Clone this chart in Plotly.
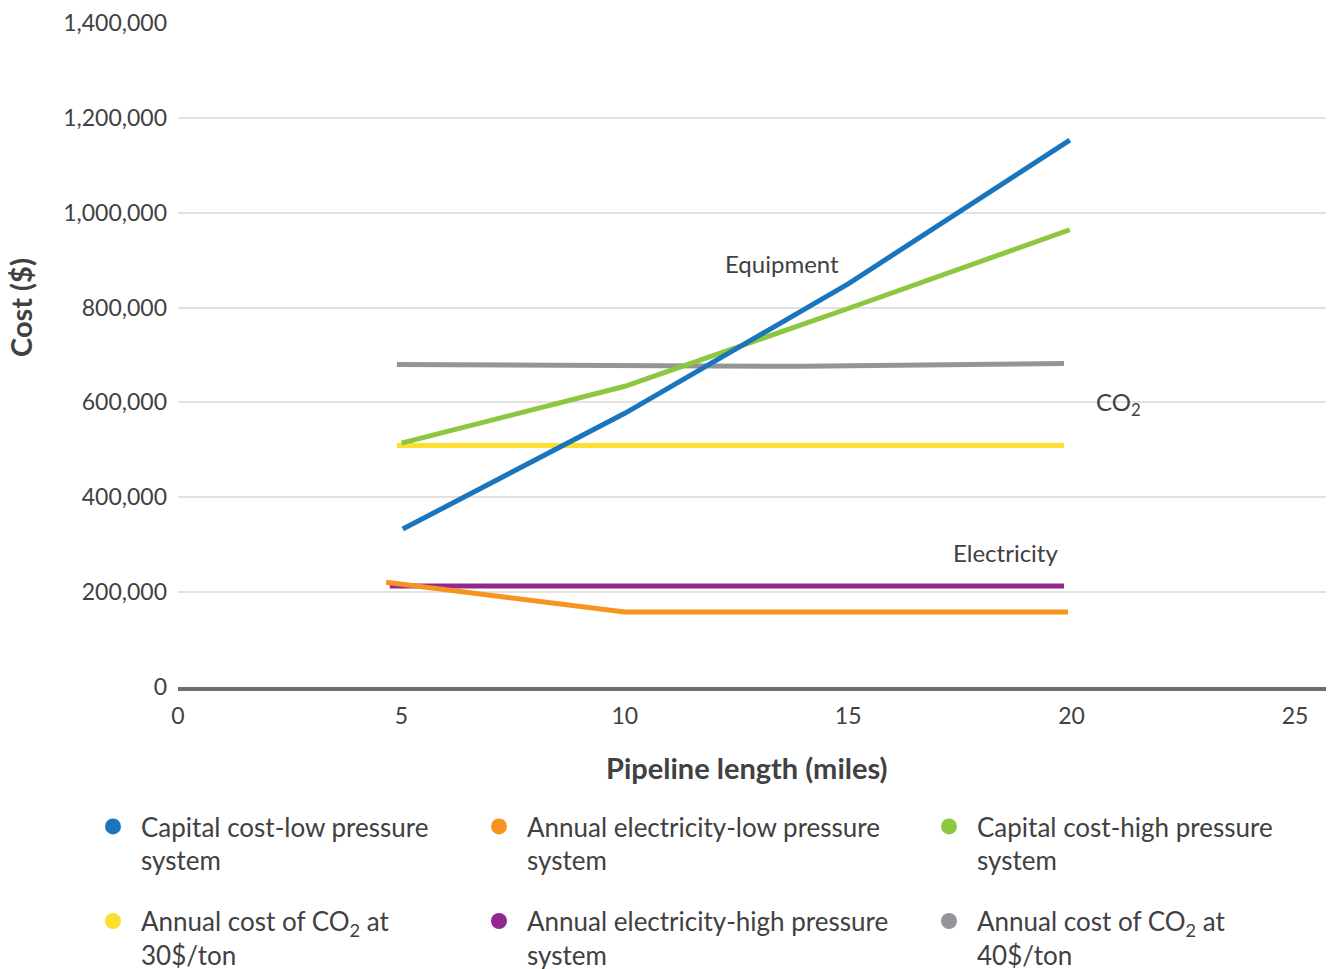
import plotly.graph_objects as go

# ---- data ----
cap_low_x = [5.03, 10, 15, 19.96]
cap_low_y = [333000, 577000, 850000, 1153000]

elec_low_x = [4.66, 10, 15, 19.92]
elec_low_y = [221000, 158000, 158000, 158000]

cap_high_x = [5.0, 10, 15, 19.96]
cap_high_y = [514000, 634000, 798000, 964000]

co2_30_x = [4.9, 10, 15, 19.83]
co2_30_y = [509000, 509000, 509000, 509000]

elec_high_x = [4.74, 10, 15, 19.83]
elec_high_y = [213000, 213000, 213000, 213000]

co2_40_x = [4.9, 10, 14, 19.83]
co2_40_y = [680000, 678000, 676000, 682000]

series_names = [
    "Capital cost-low pressure<br>system",
    "Annual electricity-low pressure<br>system",
    "Capital cost-high pressure<br>system",
    "Annual cost of CO<sub>2</sub> at<br>30$/ton",
    "Annual electricity-high pressure<br>system",
    "Annual cost of CO<sub>2</sub> at<br>40$/ton",
]
colors = ["#1a75bc", "#f7941d", "#8dc63f", "#fde02f", "#92278f", "#939598"]
xs = [cap_low_x, elec_low_x, cap_high_x, co2_30_x, elec_high_x, co2_40_x]
ys = [cap_low_y, elec_low_y, cap_high_y, co2_30_y, elec_high_y, co2_40_y]
legend_ids = ["legend", "legend2", "legend3", "legend", "legend2", "legend3"]

x_ticks = [0, 5, 10, 15, 20, 25]
y_ticks = [0, 200000, 400000, 600000, 800000, 1000000, 1200000, 1400000]

labels = [("Equipment", 13.52, 892000), ("CO<sub>2</sub>", 21.05, 598000), ("Electricity", 18.53, 284000)]

FONT = "Lato"
TXT = "#414042"

W, H = 1318, 961
ML, MT, MB = 170, 14, 282

fig = go.Figure()
# draw order: gray, yellow, purple, orange, green, blue (blue on top)
order = [5, 3, 4, 1, 2, 0]
for i in order:
    fig.add_trace(go.Scatter(
        x=xs[i], y=ys[i], mode="lines",
        line=dict(color=colors[i], width=5),
        showlegend=False, hoverinfo="skip",
    ))
for i in range(6):
    fig.add_trace(go.Scatter(
        x=[None], y=[None], mode="markers",
        marker=dict(color=colors[i], size=18, symbol="circle"),
        name=series_names[i], legend=legend_ids[i], legendgroup="g%d" % i,
    ))

for txt, lx, ly in labels:
    fig.add_annotation(x=lx, y=ly, text=txt, showarrow=False,
                       font=dict(family=FONT, size=24, color=TXT))

PH = H - MB - MT
# axis titles
fig.add_annotation(xref="paper", yref="paper", x=(739 - ML) / (W - ML), y=(H - MB - 759) / PH,
                   xanchor="center", yanchor="middle",
                   text="<b>Pipeline length (miles)</b>", showarrow=False,
                   font=dict(family=FONT, size=29, color=TXT))
fig.add_annotation(xref="paper", yref="paper", x=(12 - ML) / (W - ML), y=(H - MB - 300) / PH,
                   xanchor="center", yanchor="middle",
                   text="<b>Cost ($)</b>", showarrow=False, textangle=-90,
                   font=dict(family=FONT, size=29, color=TXT))

leg_common = dict(orientation="v", yanchor="top", xanchor="left",
                  xref="container", yref="container", valign="top",
                  font=dict(family=FONT, size=26, color=TXT), itemwidth=46,
                  tracegroupgap=24, bgcolor="rgba(0,0,0,0)", itemsizing="trace")

LEG_Y = 1 - 795 / H

fig.update_layout(
    width=W, height=H,
    margin=dict(l=ML, r=0, t=MT, b=MB, autoexpand=False),
    plot_bgcolor="white", paper_bgcolor="white",
    font=dict(family=FONT, color=TXT),
    xaxis=dict(
        range=[0, (W - ML) / 44.68], tickvals=x_ticks, ticktext=[str(v) for v in x_ticks],
        showgrid=False, zeroline=False,
        showline=True, linecolor="#6d6e71", linewidth=4,
        ticks="", ticklabelstandoff=5,
        tickfont=dict(family=FONT, size=23, color=TXT),
    ),
    yaxis=dict(
        range=[0, 1402000], tickvals=y_ticks,
        ticktext=["{:,}".format(v) for v in y_ticks],
        showgrid=True, gridcolor="#e2e2e2", gridwidth=1.5,
        zeroline=False, showline=False, ticks="", ticklabelstandoff=10,
        tickfont=dict(family=FONT, size=23, color=TXT),
    ),
    legend=dict(x=77 / W, y=LEG_Y, **leg_common),
    legend2=dict(x=463 / W, y=LEG_Y, **leg_common),
    legend3=dict(x=913 / W, y=LEG_Y, **leg_common),
)

fig.write_html("out.html")
